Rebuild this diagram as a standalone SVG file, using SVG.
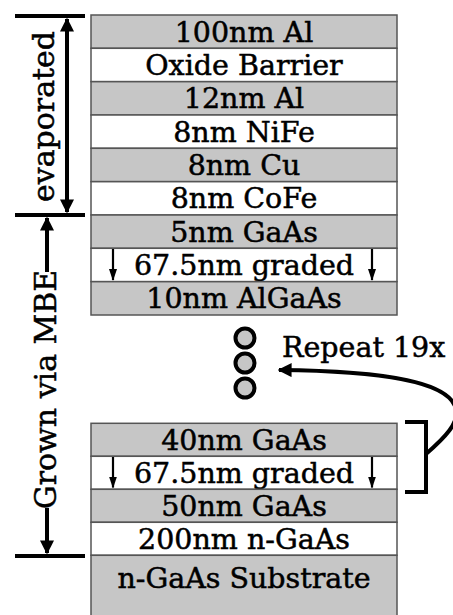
<svg xmlns="http://www.w3.org/2000/svg" width="453" height="615" viewBox="0 0 453 615">
<style>
.g{fill:#c6c6c6;stroke:#555;stroke-width:1.5}
.w{fill:#fff;stroke:#555;stroke-width:1.5}
text{font-family:"DejaVu Serif",serif;font-size:28.5px;fill:#000;stroke:#000;stroke-width:0.5}
.c{text-anchor:middle}
.r{font-size:30px}
.ln{stroke:#000;stroke-width:4;fill:none}
.sm{stroke:#000;stroke-width:2.2;fill:none}
.dot{fill:#c6c6c6;stroke:#000;stroke-width:4}
</style>
<defs>
<marker id="ah" viewBox="0 0 10 10" refX="9" refY="5" markerWidth="3.5" markerHeight="3.5" orient="auto-start-reverse" markerUnits="strokeWidth">
<path d="M0,0 L10,5 L0,10 z" fill="#000"/>
</marker>
<marker id="sah" viewBox="0 0 12 8" refX="11" refY="4" markerWidth="12" markerHeight="8" orient="auto" markerUnits="userSpaceOnUse">
<path d="M0,0 L12,4 L0,8 z" fill="#000"/>
</marker>
</defs>
<rect x="0" y="0" width="453" height="615" fill="#fff"/>
<g id="layer-100nm-Al"><rect class="g" x="91" y="15" width="306" height="33.3"/><text class="c" x="244" y="41.5">100nm Al</text></g>
<g id="layer-oxide"><rect class="w" x="91" y="48.3" width="306" height="33.3"/><text class="c" x="244" y="74.8">Oxide Barrier</text></g>
<g id="layer-12nm-Al"><rect class="g" x="91" y="81.7" width="306" height="33.3"/><text class="c" x="244" y="108.2">12nm Al</text></g>
<g id="layer-NiFe"><rect class="w" x="91" y="115" width="306" height="33.3"/><text class="c" x="244" y="141.5">8nm NiFe</text></g>
<g id="layer-Cu"><rect class="g" x="91" y="148.3" width="306" height="33.3"/><text class="c" x="244" y="174.8">8nm Cu</text></g>
<g id="layer-CoFe"><rect class="w" x="91" y="181.7" width="306" height="33.3"/><text class="c" x="244" y="208.2">8nm CoFe</text></g>
<g id="layer-5nm-GaAs"><rect class="g" x="91" y="215" width="306" height="33.3"/><text class="c" x="244" y="241.5">5nm GaAs</text></g>
<g id="layer-graded-top"><rect class="w" x="91" y="248.3" width="306" height="33.3"/><text class="c" x="244" y="274.8">67.5nm graded</text>
<line class="sm" x1="113" y1="249" x2="113" y2="280" marker-end="url(#sah)"/><line class="sm" x1="372" y1="249" x2="372" y2="280" marker-end="url(#sah)"/></g>
<g id="layer-AlGaAs"><rect class="g" x="91" y="281.7" width="306" height="33.3"/><text class="c" x="244" y="308.2">10nm AlGaAs</text></g>
<g id="dots"><circle class="dot" cx="245" cy="338" r="9.5"/><circle class="dot" cx="245" cy="363" r="9.5"/><circle class="dot" cx="245" cy="388" r="9.5"/></g>
<g id="repeat-label"><text x="282" y="357">Repeat 19x</text></g>
<g id="layer-40nm-GaAs"><rect class="g" x="91" y="423.3" width="306" height="33"/><text class="c" x="244" y="449.6">40nm GaAs</text></g>
<g id="layer-graded-bottom"><rect class="w" x="91" y="456.3" width="306" height="33"/><text class="c" x="244" y="482.6">67.5nm graded</text>
<line class="sm" x1="113" y1="457" x2="113" y2="487.5" marker-end="url(#sah)"/><line class="sm" x1="372" y1="457" x2="372" y2="487.5" marker-end="url(#sah)"/></g>
<g id="layer-50nm-GaAs"><rect class="g" x="91" y="489.3" width="306" height="33"/><text class="c" x="244" y="515.6">50nm GaAs</text></g>
<g id="layer-200nm-nGaAs"><rect class="w" x="91" y="522.3" width="306" height="33"/><text class="c" x="244" y="548.6">200nm n-GaAs</text></g>
<g id="layer-substrate"><rect class="g" x="91" y="555.3" width="306" height="62"/><text class="c" x="244" y="588">n-GaAs Substrate</text></g>
<g id="annot-evaporated"><text transform="translate(54,116.5) rotate(-90)" class="c r">evaporated</text></g>
<g id="annot-mbe"><text transform="translate(56,389.5) rotate(-90)" class="c r">Grown via MBE</text></g>
<g id="connectors">
<line class="ln" x1="15" y1="16" x2="85" y2="16"/>
<line class="ln" x1="15" y1="215" x2="85" y2="215"/>
<line class="ln" x1="15" y1="556" x2="85" y2="556"/>
<line class="ln" x1="67" y1="19" x2="67" y2="212" marker-start="url(#ah)" marker-end="url(#ah)"/>
<line class="ln" x1="47" y1="272" x2="47" y2="218" marker-end="url(#ah)"/>
<line class="ln" x1="47" y1="508" x2="47" y2="553" marker-end="url(#ah)"/>
<path class="ln" d="M405 422 H426 V492 H405"/>
<path class="ln" d="M426 454 C442 440 462 422 455 406 C446 384 395 371 279 370" marker-end="url(#ah)"/>
</g>
</svg>
